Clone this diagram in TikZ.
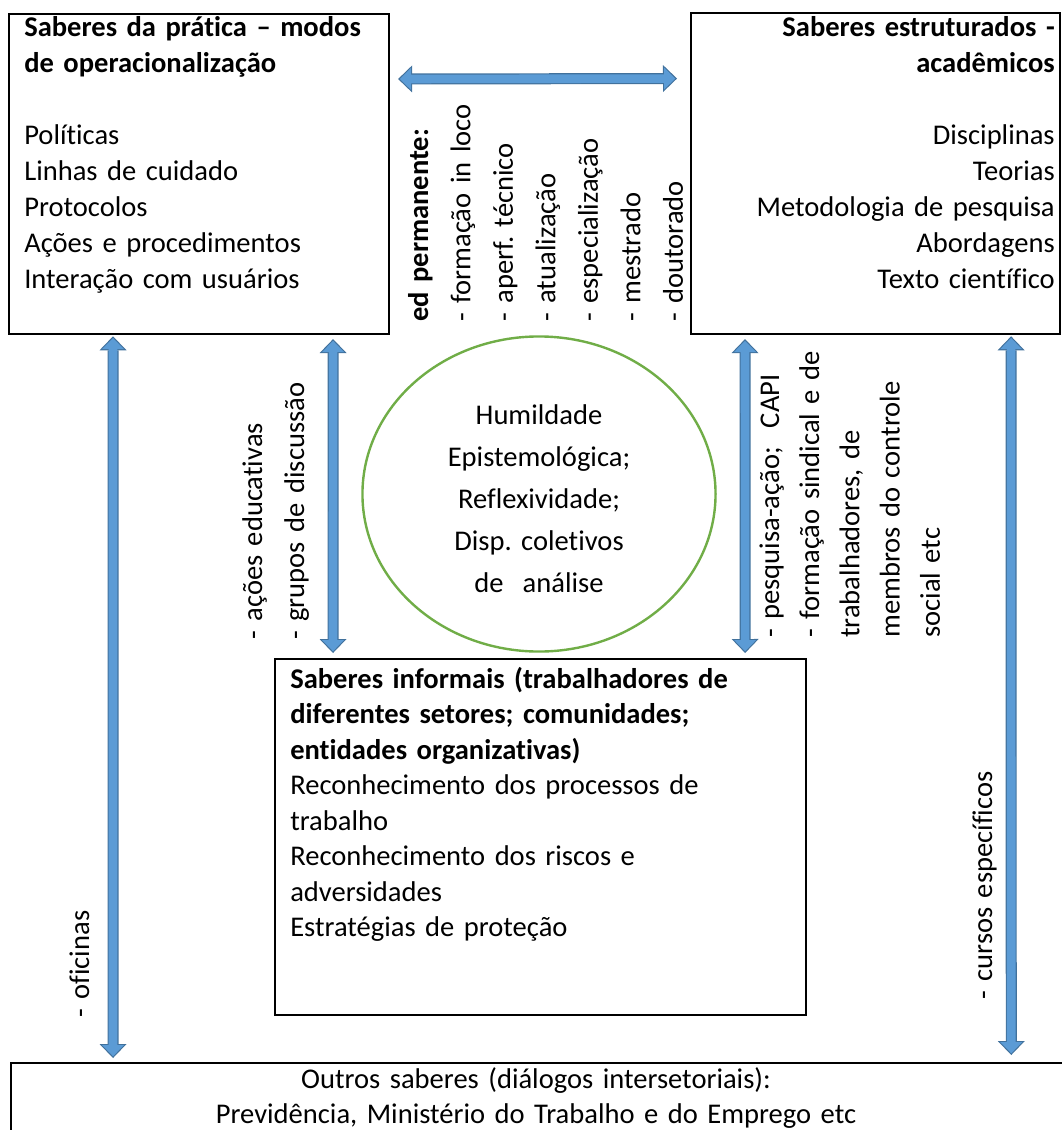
\documentclass[tikz,border=0pt]{standalone}
\usepackage{fontspec}
\setmainfont{Carlito}[Ligatures={TeX,NoCommon}]
\usepackage{tikz}
\usetikzlibrary{arrows.meta,shapes.geometric}
\definecolor{flowblue}{HTML}{5B9BD5}
\definecolor{flowedge}{HTML}{41719C}
\definecolor{leafgreen}{HTML}{70AD47}
\frenchspacing
\tikzset{
  knowbox/.style={
    rectangle, draw=black, line width=0.05cm, anchor=north west,
    inner sep=0pt
  },
  boxtext/.style={
    anchor=base west, inner sep=0pt, align=left, text width=10cm,
    font=\fontsize{20.3pt}{#1}\selectfont
  },
  boxtext/.default=25.6pt,
  sidetext/.style={
    anchor=base west, inner sep=0pt, align=left, text width=8cm,
    rotate=90, font=\fontsize{20.3pt}{#1}\selectfont
  },
  sidetext/.default=30.2pt,
  rimarrow/.style={
    draw=flowedge, line width=0.275cm,
    arrows={Triangle[length=0.35cm, width=0.675cm, line width=0pt]-Triangle[length=0.35cm, width=0.675cm, line width=0pt]}
  },
  corearrow/.style={
    draw=flowblue, line width=0.215cm,
    arrows={Triangle[length=0.28cm, width=0.55cm, line width=0pt]-Triangle[length=0.28cm, width=0.55cm, line width=0pt]}
  },
}
\begin{document}
\begin{tikzpicture}[x=0.025cm, y=-0.025cm]
  \useasboundingbox (0,0) rectangle (1062,1130);

  % Boxes
  \node[knowbox, minimum width=9.5cm, minimum height=8cm] at (8,13) (tlbox) {};
  \node[knowbox, minimum width=9.225cm, minimum height=8.025cm] at (690,12) (trbox) {};
  \node[knowbox, minimum width=13.275cm, minimum height=8.9cm] at (274,658) (midbox) {};
  \node[knowbox, minimum width=26.35cm, minimum height=2.5cm] at (10,1062) (outbox) {};
  \node[ellipse, draw=leafgreen, line width=0.06cm, minimum width=8.825cm, minimum height=7.875cm, inner sep=0pt] at (539,494) (humility) {};

  % Box texts
  \node[boxtext] at (24,37) (tltext) {\textbf{Saberes da prática – modos}\\
    \textbf{de operacionalização}\\[25.6pt]
    Políticas\\ Linhas de cuidado\\ Protocolos\\ Ações e procedimentos\\ Interação com usuários};
  \node[boxtext, anchor=base east, align=right] at (1055,37) (trtext) {\textbf{Saberes estruturados -}\\
    \textbf{acadêmicos}\\[25.6pt]
    Disciplinas\\ Teorias\\ Metodologia de pesquisa\\ Abordagens\\ Texto científico};
  \node[boxtext=25.25pt, text width=12cm] at (290,688) (midtext) {\textbf{Saberes informais (trabalhadores de}\\
    \textbf{diferentes setores; comunidades;}\\
    \textbf{entidades organizativas)}\\
    Reconhecimento dos processos de\\ trabalho\\
    Reconhecimento dos riscos e\\ adversidades\\
    Estratégias de proteção};
  \node[boxtext=29.9pt, anchor=base, align=center, text width=8cm] at (539,424) (humtext) {Humildade\\ Epistemológica;\\ Reflexividade;\\ Disp. coletivos\\ de\ \ análise};
  \node[boxtext=25.2pt, anchor=base, align=center, text width=24cm] at (536,1088) (outtext) {Outros saberes (diálogos intersetoriais):\\
    Previdência, Ministério do Trabalho e do Emprego etc};

  % Side labels
  \node[sidetext] at (428,322) (edtext) {\textbf{ed permanente:}\\ - formação in loco\\ - aperf. técnico\\ - atualização\\ - especialização\\ - mestrado\\ - doutorado};
  \node[sidetext=29.9pt] at (262,640) (grptext) {- ações educativas\\ - grupos de discussão};
  \node[sidetext=28.6pt] at (779,638) (pesqtext) {- pesquisa-ação;\ \ CAPI\\ - formação sindical e de\\ trabalhadores, de\\ membros do controle\\ social etc};
  \node[sidetext] at (89,1018) (ofitext) {- oficinas};
  \node[sidetext] at (992,1000) (curtext) {- cursos específicos};

  % Arrows
  \draw[rimarrow, shorten <=0.2cm, shorten >=0.325cm] ([yshift=2.375cm]tlbox.east) -- ([yshift=2.375cm]trbox.west);
  \draw[corearrow, shorten <=0.243cm, shorten >=0.368cm] ([yshift=2.375cm]tlbox.east) -- ([yshift=2.375cm]trbox.west);
  \draw[rimarrow, shorten <=0.03cm, shorten >=0.1cm] ([xshift=-2.15cm]tlbox.south) -- ([xshift=-10.625cm]outbox.north);
  \draw[corearrow, shorten <=0.073cm, shorten >=0.143cm] ([xshift=-2.15cm]tlbox.south) -- ([xshift=-10.625cm]outbox.north);
  \draw[rimarrow, shorten <=0.1cm, shorten >=0.125cm] ([xshift=3.35cm]tlbox.south) -- ([xshift=-5.1875cm]midbox.north);
  \draw[corearrow, shorten <=0.143cm, shorten >=0.168cm] ([xshift=3.35cm]tlbox.south) -- ([xshift=-5.1875cm]midbox.north);
  \draw[rimarrow, shorten <=0.1cm, shorten >=0.125cm] ([xshift=-3.2625cm]trbox.south) -- ([xshift=5.1125cm]midbox.north);
  \draw[corearrow, shorten <=0.143cm, shorten >=0.168cm] ([xshift=-3.2625cm]trbox.south) -- ([xshift=5.1125cm]midbox.north);
  \draw[rimarrow, shorten <=0.03cm, shorten >=0.175cm] ([xshift=3.3875cm]trbox.south) -- ([xshift=11.825cm]outbox.north);
  \draw[corearrow, shorten <=0.073cm, shorten >=0.218cm] ([xshift=3.3875cm]trbox.south) -- ([xshift=11.825cm]outbox.north);
\end{tikzpicture}
\end{document}
